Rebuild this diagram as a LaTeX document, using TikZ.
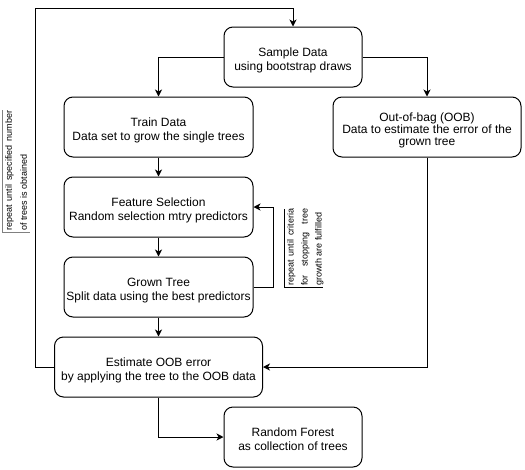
\documentclass[tikz,border=0pt]{standalone}
\usepackage{fontspec}
\setmainfont{Liberation Sans}
\usetikzlibrary{arrows.meta}
\newcommand\Tst{\rule{0pt}{16pt}}
\newcommand\Bst{\rule[-3pt]{0pt}{3pt}}
\begin{document}
\begin{tikzpicture}[x=1pt,y=-1pt,
  box/.style={draw, line width=1pt, rounded corners=9pt, inner sep=0pt,
    align=center, font=\fontsize{12}{14}\selectfont},
  arr/.style={line width=1pt, -{Stealth[length=7pt,width=7pt,inset=2pt]}},
  lbl/.style={font=\fontsize{9}{11}\selectfont, rotate=90, anchor=base west, inner sep=0pt}
]
\useasboundingbox (0,0) rectangle (525,469);

\node[box, minimum width=138pt, minimum height=60pt] (sample) at (293,57)
  {\Tst Sample Data\\using bootstrap draws\Bst};
\node[box, minimum width=189pt, minimum height=60pt] (train) at (158.5,127)
  {\Tst Train Data\\Data set to grow the single trees\Bst};
\node[box, minimum width=188pt, minimum height=60pt, font=\fontsize{12}{12}\selectfont] (oob) at (427,127)
  {\Tst Out-of-bag (OOB)\\Data to estimate the error of the\\grown tree\Bst};
\node[box, minimum width=189pt, minimum height=60pt] (feat) at (158.5,207)
  {\Tst Feature Selection\\Random selection mtry predictors\Bst};
\node[box, minimum width=189pt, minimum height=60pt] (grown) at (158.5,287)
  {\Tst Grown Tree\\Split data using the best predictors\Bst};
\node[box, minimum width=208pt, minimum height=60pt] (est) at (158.5,367)
  {\Tst Estimate OOB error\\by applying the tree to the OOB data\Bst};
\node[box, minimum width=138pt, minimum height=60pt] (rf) at (293,437)
  {\Tst Random Forest\\as collection of trees\Bst};

\coordinate (lc) at (35,8);

\draw[arr] (sample.west) -| (train.north);
\draw[arr] (sample.east) -| (oob.north);
\draw[arr] (train) -- (feat);
\draw[arr] (feat) -- (grown);
\draw[arr] (grown) -- (est);
\draw[arr] (oob.south) |- (est.east);
\draw[arr] (est.south) |- (rf.west);
\draw[arr] (grown.east) -- ++(20,0) |- (feat.east);
\draw[arr] (est.west) -| (lc) -| (sample.north);

% left label
\draw[gray, line width=1pt] (2,110) -- (2,232) -- (30,232);
\node[lbl] (l1) at (12,231) {\makebox[120pt][s]{repeat until specified number}};
\node[lbl] (l2) at (27,231) {of trees is obtained};

% right label
\draw[line width=1pt] (284.5,209) -- (284.5,287) -- (323,287);
\node[lbl] (r1) at (293.5,286) {\makebox[77pt][s]{repeat until criteria}};
\node[lbl] (r2) at (307.5,286) {\makebox[77pt][s]{for stopping tree}};
\node[lbl] (r3) at (321.5,286) {growth are fulfilled};
\end{tikzpicture}
\end{document}
